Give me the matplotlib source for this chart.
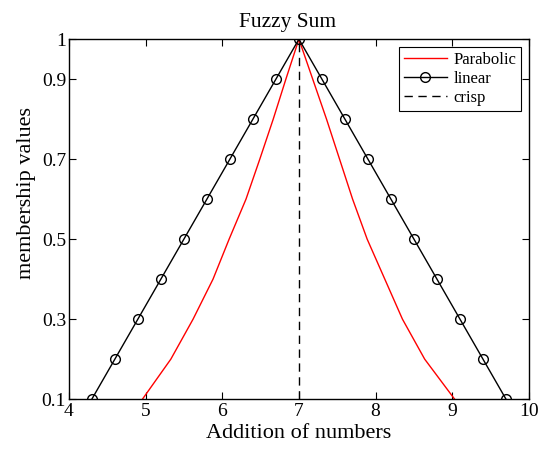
import matplotlib
matplotlib.use('Agg')
import matplotlib.pyplot as plt

# membership levels
mu = [0.1, 0.2, 0.3, 0.4, 0.5, 0.6, 0.7, 0.8, 0.9, 1.0]

# linear fuzzy sum (alpha-cut bounds)
lin_left = [4.3, 4.6, 4.9, 5.2, 5.5, 5.8, 6.1, 6.4, 6.7, 7.0]
lin_right = [9.7, 9.4, 9.1, 8.8, 8.5, 8.2, 7.9, 7.6, 7.3, 7.0]

# parabolic fuzzy sum (alpha-cut bounds)
par_left = [4.96, 5.33, 5.62, 5.88, 6.09, 6.31, 6.49, 6.665, 6.83, 7.0]
par_right = [9.03, 8.64, 8.35, 8.12, 7.89, 7.70, 7.53, 7.36, 7.18, 7.0]

crisp_x = [7, 7]
crisp_y = [0.1, 1.0]

x_ticks = [4, 5, 6, 7, 8, 9, 10]
y_ticks = [0.1, 0.3, 0.5, 0.7, 0.9, 1]
y_labels = ['0.1', '0.3', '0.5', '0.7', '0.9', '1']

plt.rcParams['font.family'] = ['Liberation Serif', 'DejaVu Serif']

fig = plt.figure(figsize=(5.42, 4.5), dpi=100)
ax = fig.add_axes([0.127, 0.113, 0.849, 0.800])

ax.plot(par_left + par_right[::-1][1:], mu + mu[::-1][1:], color='red', lw=1, label='Parabolic')
ax.plot(lin_left + lin_right[::-1][1:], mu + mu[::-1][1:], color='black', lw=1,
        marker='o', mfc='none', ms=7, mew=1, label='linear')
ax.plot(crisp_x, crisp_y, color='black', lw=1, ls=(0, (6, 4)), label='crisp')

ax.set_xlim(4, 10)
ax.set_ylim(0.1, 1)
ax.set_xticks(x_ticks)
ax.set_yticks(y_ticks)
ax.set_yticklabels(y_labels)
ax.tick_params(direction='in', top=True, right=True, labelsize=14, length=5)
ax.tick_params(axis='y', pad=2)
ax.tick_params(axis='x', pad=3)
for s in ax.spines.values():
    s.set_linewidth(1)

ax.set_title('Fuzzy Sum', fontsize=15.5, pad=9, x=0.476)
ax.set_xlabel('Addition of numbers', fontsize=16, labelpad=3)
ax.set_ylabel('membership values', fontsize=16, labelpad=4)
ax.yaxis.label.set_y(0.572)

leg = ax.legend(loc='upper right', fontsize=12, fancybox=False, framealpha=1,
                edgecolor='black', handlelength=2.6, borderpad=0.3,
                labelspacing=0.18, handletextpad=0.4, borderaxespad=0.45)
leg.get_frame().set_linewidth(0.8)

fig.savefig('out.png', dpi=100)
